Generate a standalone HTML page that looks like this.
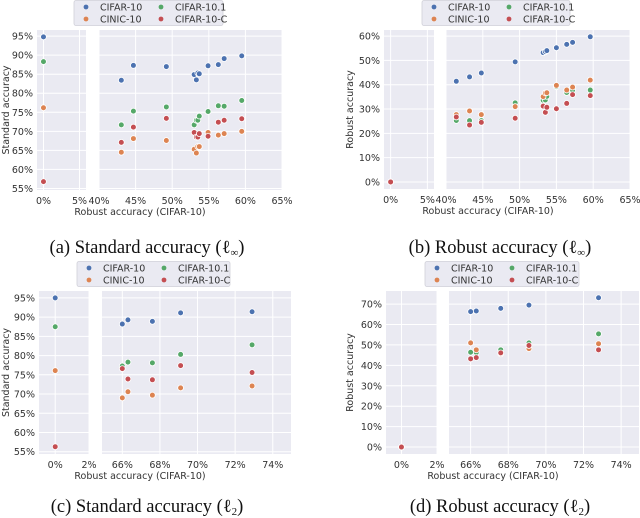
<!DOCTYPE html>
<html><head><meta charset="utf-8">
<style>
html,body{margin:0;padding:0;background:#fff;}
svg{display:block;font-family:"DejaVu Sans","Liberation Sans",sans-serif;}
.t{font-size:9.5px;fill:#333;}
.cap{font-family:"Liberation Serif","DejaVu Serif",serif;font-size:18.5px;fill:#111;}
</style></head>
<body>
<svg id="fig" width="640" height="518" viewBox="0 0 640 518"></svg>
<script>
// ---- Panel (a): Standard accuracy (l_inf) ----
const aX = [43.05,44.7,49.2,53.0,53.3,53.5,53.7,54.9,56.3,57.1,59.5];
const aBlue = [83.4,87.3,87.0,84.9,83.5,85.3,85.1,87.2,87.5,89.1,89.8];
const aGreen = [71.7,75.3,76.4,71.7,72.9,72.9,74.0,75.2,76.7,76.6,78.1];
const aOrange = [64.5,68.1,67.6,65.3,64.3,66.0,66.0,69.7,69.0,69.4,70.0];
const aRed = [67.1,71.1,73.4,69.7,68.5,68.5,69.4,68.7,72.4,72.9,73.3];
const aZero = [94.8,88.3,76.2,56.8];
// ---- Panel (b): Robust accuracy (l_inf) ----
const bX = [41.4,43.2,44.8,49.4,53.2,53.5,53.7,55.0,56.4,57.2,59.6];
const bBlue = [41.4,43.2,44.8,49.4,53.2,53.6,54.0,55.2,56.6,57.4,59.7];
const bGreen = [25.3,25.2,25.2,32.5,33.6,33.7,35.2,39.2,36.8,37.8,37.8];
const bOrange = [27.7,29.2,27.7,31.0,35.1,36.6,36.7,39.7,37.8,39.0,41.9];
const bRed = [26.7,23.4,24.5,26.2,31.2,28.6,30.7,30.1,32.3,35.9,35.5];
const bZero = [0,0,0,0];
// ---- Panel (c): Standard accuracy (l_2) ----
const cX = [66.0,66.3,67.6,69.1,72.9];
const cBlue = [88.2,89.3,88.9,91.1,91.4];
const cGreen = [77.3,78.3,78.1,80.3,82.8];
const cOrange = [69.0,70.6,69.7,71.6,72.1];
const cRed = [76.6,73.9,73.7,77.4,75.6];
const cZero = [95.0,87.5,76.1,56.3];
// ---- Panel (d): Robust accuracy (l_2) ----
const dX = [66.0,66.3,67.6,69.1,72.8];
const dBlue = [66.3,66.6,67.9,69.5,73.1];
const dGreen = [46.4,46.3,47.6,51.0,55.4];
const dOrange = [51.0,47.6,45.6,48.2,50.6];
const dRed = [43.2,43.8,46.1,49.7,47.6];
const dZero = [0,0,0,0];

const seriesNames = ['CIFAR-10','CIFAR-10.1','CINIC-10','CIFAR-10-C'];
const colors = ['#4C72B0','#55A868','#DD8452','#C44E52'];
const lInfSmallTicks = [0,5];
const lInfBigTicks = [40,45,50,55,60,65];
const l2SmallTicks = [0,2];
const l2BigTicks = [66,68,70,72,74];
const stdYTicks = [55,60,65,70,75,80,85,90,95];
const robYTicksA = [0,10,20,30,40,50,60];
const robYTicksB = [0,10,20,30,40,50,60,70];

const NS='http://www.w3.org/2000/svg';
const svg=document.getElementById('fig');
function mk(tag,attrs,parent){const e=document.createElementNS(NS,tag);for(const k in attrs)e.setAttribute(k,attrs[k]);(parent||svg).appendChild(e);return e;}

const panels=[
 {id:'a',top:30,bot:190,sx:[37,86],sd:[-0.9,5.9],bx:[99,282],bd:[40,65],yd:[54.6,96.6],
  st:lInfSmallTicks,bt:lInfBigTicks,yt:stdYTicks,X:aX,S:[aBlue,aGreen,aOrange,aRed],Z:aZero,
  leg:[74,223],ylab:'Standard accuracy',ylx:9,xlc:140,cap:'(a) Standard accuracy (ℓ',capx:147,capy:253},
 {id:'b',top:30,bot:189,sx:[384,434],sd:[-0.9,5.9],bx:[446,630],bd:[40,65],yd:[-2.9,62.5],
  st:lInfSmallTicks,bt:lInfBigTicks,yt:robYTicksA,X:bX,S:[bBlue,bGreen,bOrange,bRed],Z:bZero,
  leg:[422,570],ylab:'Robust accuracy',ylx:353,xlc:488,cap:'(b) Robust accuracy (ℓ',capx:500,capy:253},
 {id:'c',top:291,bot:454,sx:[39,89],sd:[-0.96,2.0],bx:[102,291],bd:[64.92,74.97],yd:[54.4,96.8],
  st:l2SmallTicks,bt:l2BigTicks,yt:stdYTicks,X:cX,S:[cBlue,cGreen,cOrange,cRed],Z:cZero,
  leg:[77,230],ylab:'Standard accuracy',ylx:9,xlc:140,cap:'(c) Standard accuracy (ℓ',capx:147,capy:512,l2:true},
 {id:'d',top:291,bot:454,sx:[386,437],sd:[-0.87,2.0],bx:[449,639],bd:[64.85,74.95],yd:[-3.4,76.4],
  st:l2SmallTicks,bt:l2BigTicks,yt:robYTicksB,X:dX,S:[dBlue,dGreen,dOrange,dRed],Z:dZero,
  leg:[425,579],ylab:'Robust accuracy',ylx:353,xlc:493,cap:'(d) Robust accuracy (ℓ',capx:500,capy:512,l2:true}
];

function lin(d,r){return v=>r[0]+(v-d[0])/(d[1]-d[0])*(r[1]-r[0]);}

panels.forEach(p=>{
  const g=mk('g',{});
  
  
  const y=lin(p.yd,[p.bot,p.top]);
  const xs=lin(p.sd,p.sx), xb=lin(p.bd,p.bx);
  [[p.sx,'small-axis'],[p.bx,'main-axis']].forEach(([r,n])=>{
    const bg=mk('rect',{x:r[0],y:p.top,width:r[1]-r[0],height:p.bot-p.top,fill:'#EAEAF2'},g);
    
    
  });
  p.yt.forEach(v=>{
    const yy=y(v);
    [p.sx,p.bx].forEach(r=>mk('line',{x1:r[0],x2:r[1],y1:yy,y2:yy,stroke:'#fff','stroke-width':1},g));
    const t=mk('text',{x:p.sx[0]-4,y:yy+3.5,'text-anchor':'end',class:'t'},g);
    t.textContent=v+'%';
    
    
  });
  const xtY=p.bot+14;
  p.st.forEach(v=>{
    const xx=xs(v);
    mk('line',{x1:xx,x2:xx,y1:p.top,y2:p.bot,stroke:'#fff','stroke-width':1},g);
    const t=mk('text',{x:xx,y:xtY,'text-anchor':'middle',class:'t'},g);
    t.textContent=v+'%';
    
    
  });
  p.bt.forEach(v=>{
    const xx=xb(v);
    mk('line',{x1:xx,x2:xx,y1:p.top,y2:p.bot,stroke:'#fff','stroke-width':1},g);
    const t=mk('text',{x:xx,y:xtY,'text-anchor':'middle',class:'t'},g);
    t.textContent=v+'%';
    
    
  });
  p.S.forEach((ser,si)=>{
    ser.forEach((v,i)=>{
      const c=mk('circle',{cx:xb(p.X[i]),cy:y(v),r:2.9,fill:colors[si],stroke:'#fff','stroke-width':0.8},g);
      
      
    });
    const z=mk('circle',{cx:xs(0),cy:y(p.Z[si]),r:2.9,fill:colors[si],stroke:'#fff','stroke-width':0.8},g);
    
    
  });
  const yl=mk('text',{x:0,y:0,'text-anchor':'middle',class:'t',transform:`translate(${p.ylx},${(p.top+p.bot)/2}) rotate(-90)`},g);
  yl.textContent=p.ylab;
  
  
  const xl=mk('text',{x:p.xlc,y:p.bot+25,'text-anchor':'middle',class:'t'},g);
  xl.textContent='Robust accuracy (CIFAR-10)';
  
  
  const ly=p.top-30;
  const lg=mk('g',{},g);
  
  
  mk('rect',{x:p.leg[0],y:ly+0.5,width:p.leg[1]-p.leg[0],height:25,rx:2,fill:'#EAEAF2',stroke:'#d0d0d8','stroke-width':0.8},lg);
  const order=[[0,0,0],[2,0,1],[1,1,0],[3,1,1]];
  order.forEach(([si,col,row])=>{
    const bx=p.leg[0]+12+col*75, by=ly+7+row*12;
    const m=mk('circle',{cx:bx,cy:by,r:2.4,fill:colors[si]},lg);
    
    
    const t=mk('text',{x:bx+14,y:by+3.5,class:'t'},lg);
    t.textContent=seriesNames[si];
    
    
  });
  const cap=mk('text',{x:p.capx,y:p.capy,'text-anchor':'middle',class:'cap'},g);
  
  
  cap.textContent=p.cap;
  const sub=mk('tspan',{'font-size':'11px',dy:'3'},cap);
  sub.textContent=p.l2?'2':'∞';
  const cl=mk('tspan',{dy:'-3'},cap);
  cl.textContent=')';
});
</script>
</body></html>
